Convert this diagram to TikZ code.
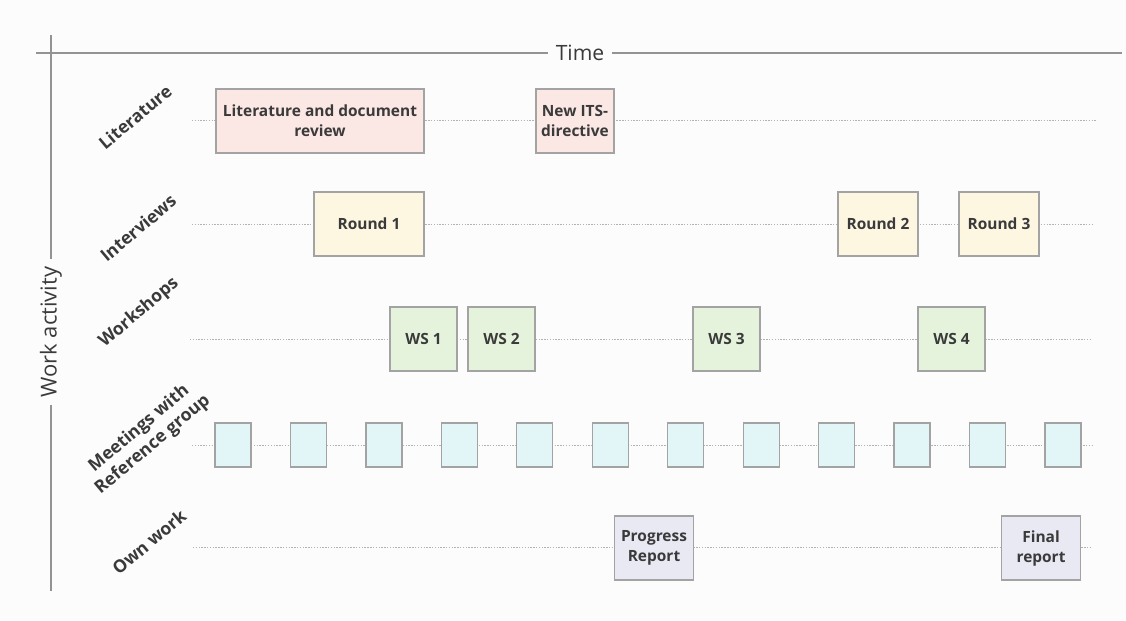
\documentclass[tikz,border=0pt]{standalone}
\usepackage{fontspec}
\setmainfont{Open Sans}
\usetikzlibrary{positioning}

\definecolor{litfill}{HTML}{FBE7E4}
\definecolor{intfill}{HTML}{FDF6E1}
\definecolor{wsfill}{HTML}{E6F3DC}
\definecolor{reffill}{HTML}{E2F5F7}
\definecolor{ownfill}{HTML}{E9E9F4}
\definecolor{boxedge}{HTML}{A3A3A3}
\definecolor{ink}{HTML}{3A3A3A}
\definecolor{paper}{HTML}{FCFCFC}

\tikzset{
  task/.style={draw=boxedge, line width=0.7pt, text=ink, align=center,
    font=\bfseries\fontsize{8.8}{11.4}\selectfont, minimum height=1.28cm, inner sep=1pt},
  rowline/.style={draw=gray!60, line width=0.5pt, dash pattern=on 0.8pt off 0.8pt},
  rowlabel/.style={rotate=40, text=ink, align=center,
    font=\bfseries\fontsize{10}{12}\selectfont},
  axisline/.style={draw=gray!85, line width=0.6pt},
}

\begin{document}
\begin{tikzpicture}[x=0.02cm, y=-0.02cm]
    \fill[paper] (0,0) rectangle (1126,620);
    \useasboundingbox (0,0) rectangle (1126,620);

    \node[text=ink, font=\fontsize{12}{14}\selectfont, inner xsep=4pt] (time) at (580,53) {Time};
    \node[rotate=90, text=ink, font=\fontsize{12.5}{14}\selectfont, inner xsep=4pt] (work) at (51,332) {Work activity};
    \coordinate (tl) at (36,53);
    \coordinate (tr) at (1122,53);
    \coordinate (wt) at (51,35);
    \coordinate (wb) at (51,591);
    \draw[axisline] (tl) -- (time.west);
    \draw[axisline] (time.east) -- (tr);
    \draw[axisline] (wt) -- (work.east);
    \draw[axisline] (work.west) -- (wb);

    \node[rowlabel] (lit) at (135,117) {Literature};
    \node[rowlabel] (int) at (138,228) {Interviews};
    \node[rowlabel] (ws) at (139,313) {Workshops};
    \node[rowlabel] (ref) at (146,437) {Meetings with\\Reference group};
    \node[rowlabel] (own) at (149,542) {Own work};

    \coordinate (lit-s) at (192,120);
    \coordinate (lit-e) at (1096,120);
    \coordinate (int-s) at (192,224);
    \coordinate (int-e) at (1092,224);
    \coordinate (ws-s) at (190,339);
    \coordinate (ws-e) at (1090,339);
    \coordinate (ref-s) at (192,445);
    \coordinate (ref-e) at (1092,445);
    \coordinate (own-s) at (193,547);
    \coordinate (own-e) at (1092,547);
    \draw[rowline] (lit-s) -- (lit-e);
    \draw[rowline] (int-s) -- (int-e);
    \draw[rowline] (ws-s) -- (ws-e);
    \draw[rowline] (ref-s) -- (ref-e);
    \draw[rowline] (own-s) -- (own-e);

    \node[task, fill=litfill, minimum width=4.16cm] (review) at (320,121) {Literature and document\\review};
    \node[task, fill=litfill, minimum width=1.56cm] (its) at (575,121) {New ITS-\\directive};

    \node[task, fill=intfill, minimum width=2.2cm] (round1) at (369,224) {Round 1};
    \node[task, fill=intfill, minimum width=1.6cm] (round2) at (878,224) {Round 2};
    \node[task, fill=intfill, minimum width=1.6cm] (round3) at (999,224) {Round 3};

    \node[task, fill=wsfill, minimum width=1.34cm] (ws1) at (423.5,339) {WS 1};
    \node[task, fill=wsfill, minimum width=1.34cm] (ws2) at (501.5,339) {WS 2};
    \node[task, fill=wsfill, minimum width=1.34cm] (ws3) at (726.5,339) {WS 3};
    \node[task, fill=wsfill, minimum width=1.34cm] (ws4) at (951.5,339) {WS 4};

    \foreach \i in {0,...,11}
        \node[task, fill=reffill, minimum width=0.72cm, minimum height=0.88cm] (meet\i) at ({233+75.45*\i},445) {};

    \node[task, fill=ownfill, minimum width=1.58cm] (progress) at (654,548) {Progress\\Report};
    \node[task, fill=ownfill, minimum width=1.58cm] (final) at (1041,548) {Final\\report};
\end{tikzpicture}
\end{document}
